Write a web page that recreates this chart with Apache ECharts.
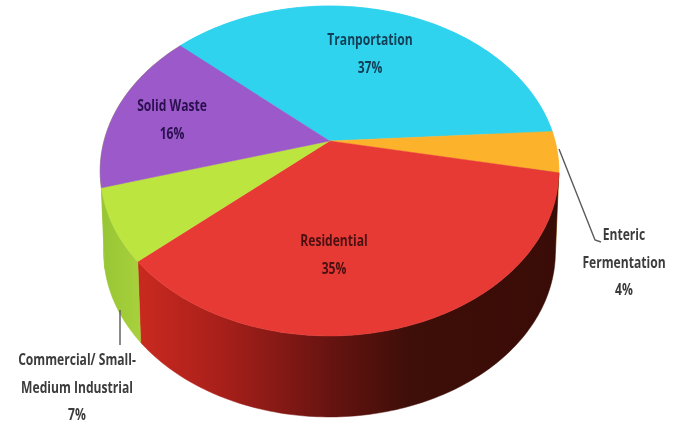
<!DOCTYPE html>
<html>
<head>
<meta charset="utf-8">
<style>html,body{margin:0;padding:0;background:#fff}#chart{width:683px;height:424px}</style>
<script src="https://cdn.jsdelivr.net/npm/echarts@6/dist/echarts.min.js"></script>
</head>
<body>
<div id="chart"></div>
<script>
// Emissions share by sector, clockwise from the back-left edge of the disc
const sectors = ['Tranportation', 'Enteric\nFermentation', 'Residential', 'Commercial/ Small-\nMedium Industrial', 'Solid Waste'];
const shares = [37, 4, 35, 7, 16];

// Appearance per sector
const topColors = ['#30d3ee', '#fdb22b', '#e83a35', '#bde53f', '#9b59c9'];
const labelColors = ['#123f55', '#3c3c3c', '#4a1012', '#3c3c3c', '#2b1050'];
const labelCentres = [[370, 27], [624, 222], [334, 228], [77, 347], [172, 93]];
const leaderLines = [
  [[559, 149], [595, 240], [601, 242]],
  [[120, 310], [120, 345]]
];

// Disc geometry: perspective projection of a tilted circle
const cx = 329.5, cy = 141, radius = 225.5, tilt = 159.5, focal = 5.5;
const depth = 81, rimShrink = 0.985;
const startDeg = 222;

const total = shares.reduce((a, b) => a + b, 0);
const spans = [];
let acc = startDeg;
shares.forEach(v => {
  const next = acc + v / total * 360;
  spans.push([acc, next]);
  acc = next;
});

function project(deg) {
  const t = deg * Math.PI / 180;
  const u = Math.cos(t), v = Math.sin(t);
  const s = focal / (focal - v);
  return [cx + radius * u * s, cy + tilt * v * s];
}
function lower(p) {
  return [cx + (p[0] - cx) * rimShrink, p[1] + depth];
}
function arc(a, b) {
  const pts = [];
  const n = Math.max(2, Math.ceil(Math.abs(b - a)));
  for (let i = 0; i <= n; i++) pts.push(project(a + (b - a) * i / n));
  return pts;
}

// Side walls are shaded from the lit left end towards near black on the right
function wallFill(i) {
  if (i === 2) {
    return new echarts.graphic.LinearGradient(142, 0, 561, 0, [
      { offset: 0, color: '#c8291f' },
      { offset: 0.2, color: '#a61f1a' },
      { offset: 0.46, color: '#641310' },
      { offset: 0.64, color: '#3e0e08' },
      { offset: 1, color: '#3a0c07' }
    ], true);
  }
  // The left silhouette reads as one green face
  if (i === 3 || i === 4) {
    return new echarts.graphic.LinearGradient(100, 0, 145, 0, [
      { offset: 0, color: '#97c534' },
      { offset: 1, color: '#a9d23d' }
    ], true);
  }
  return topColors[i];
}

function renderWall(params) {
  const i = params.dataIndex;
  const top = arc(spans[i][0], spans[i][1]);
  const points = top.concat(top.map(lower).reverse());
  const fill = wallFill(i);
  return { type: 'polygon', shape: { points }, style: { fill, stroke: fill, lineWidth: 0.5 } };
}

function renderTop(params) {
  const i = params.dataIndex;
  const points = [[cx, cy]].concat(arc(spans[i][0], spans[i][1]));
  return {
    type: 'polygon',
    shape: { points },
    style: { fill: topColors[i], stroke: topColors[i], lineWidth: 0.5 }
  };
}

function renderLabel(params, api) {
  const i = params.dataIndex;
  return {
    type: 'text',
    x: labelCentres[i][0],
    y: labelCentres[i][1],
    scaleX: 0.78,
    style: {
      text: sectors[i] + '\n' + api.value(0) + '%',
      fill: labelColors[i],
      font: 'bold 15.5px "Open Sans", "Noto Sans", sans-serif',
      lineHeight: 27.5,
      align: 'center',
      verticalAlign: 'top'
    }
  };
}

function renderLeader(params) {
  return {
    type: 'polyline',
    shape: { points: leaderLines[params.dataIndex] },
    style: { fill: null, stroke: '#5a5a5a', lineWidth: 1.4 }
  };
}

const chart = echarts.init(document.getElementById('chart'), null, { renderer: 'canvas' });
chart.setOption({
  animation: false,
  backgroundColor: '#ffffff',
  series: [
    { type: 'custom', coordinateSystem: 'none', z: 1, silent: true, data: shares, renderItem: renderWall },
    { type: 'custom', coordinateSystem: 'none', z: 2, silent: true, data: shares, renderItem: renderTop },
    { type: 'custom', coordinateSystem: 'none', z: 3, silent: true, data: [0, 1], renderItem: renderLeader },
    { type: 'custom', coordinateSystem: 'none', z: 4, silent: true, data: shares, renderItem: renderLabel }
  ]
});
</script>
</body>
</html>
